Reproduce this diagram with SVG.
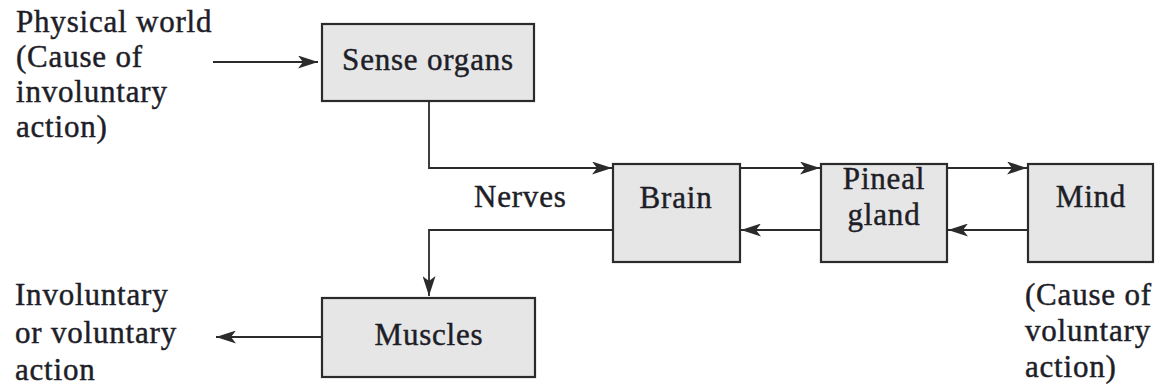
<svg xmlns="http://www.w3.org/2000/svg" width="1155" height="385" viewBox="0 0 1155 385">
<defs>
<style>
.box{fill:#e6e6e6;stroke:#2b2b2b;stroke-width:2.2}
.t{font-family:"Liberation Serif","Times New Roman",serif;font-size:31px;letter-spacing:0.8px;fill:#1e1e28;stroke:#1e1e28;stroke-width:0.45}
.c{text-anchor:middle}
.ln{fill:none;stroke:#2b2b2b;stroke-width:1.8}
</style>
<marker id="ah" viewBox="0 0 20 13" refX="20" refY="6.5" markerWidth="20" markerHeight="13" markerUnits="userSpaceOnUse" orient="auto">
<path d="M0,0 L20,6.5 L0,13 L5,6.5 Z" fill="#2b2b2b"/>
</marker>
</defs>
<rect width="1155" height="385" fill="#fff"/>
<g id="connectors">
<path class="ln" d="M213,62 H318" marker-end="url(#ah)"/>
<path class="ln" d="M429,101 V168 H612" marker-end="url(#ah)"/>
<path class="ln" d="M740,168 H820" marker-end="url(#ah)"/>
<path class="ln" d="M947,168 H1027" marker-end="url(#ah)"/>
<path class="ln" d="M1028,230 H948" marker-end="url(#ah)"/>
<path class="ln" d="M821,230 H741" marker-end="url(#ah)"/>
<path class="ln" d="M613,230 H429 V296" marker-end="url(#ah)"/>
<path class="ln" d="M322,337 H216" marker-end="url(#ah)"/>
</g>
<g id="physical-world">
<text class="t" x="16" y="32">Physical world</text>
<text class="t" x="16" y="67">(Cause of</text>
<text class="t" x="16" y="102">involuntary</text>
<text class="t" x="16" y="137">action)</text>
</g>
<g id="sense-organs">
<rect class="box" x="322" y="24" width="212" height="77"/>
<text class="t c" x="428" y="70">Sense organs</text>
</g>
<g id="nerves-label">
<text class="t" x="474" y="207">Nerves</text>
</g>
<g id="brain">
<rect class="box" x="613" y="164" width="127" height="98"/>
<text class="t c" x="676" y="208">Brain</text>
</g>
<g id="pineal-gland">
<rect class="box" x="821" y="164" width="126" height="98"/>
<text class="t c" x="884" y="189">Pineal</text>
<text class="t c" x="884" y="225">gland</text>
</g>
<g id="mind">
<rect class="box" x="1028" y="164" width="125" height="98"/>
<text class="t c" x="1091" y="207">Mind</text>
</g>
<g id="voluntary-cause">
<text class="t" x="1025" y="305">(Cause of</text>
<text class="t" x="1025" y="341">voluntary</text>
<text class="t" x="1025" y="377">action)</text>
</g>
<g id="muscles">
<rect class="box" x="322" y="298" width="213" height="79"/>
<text class="t c" x="429" y="345">Muscles</text>
</g>
<g id="action-output">
<text class="t" x="15" y="305">Involuntary</text>
<text class="t" x="15" y="343">or voluntary</text>
<text class="t" x="15" y="380">action</text>
</g>
</svg>
